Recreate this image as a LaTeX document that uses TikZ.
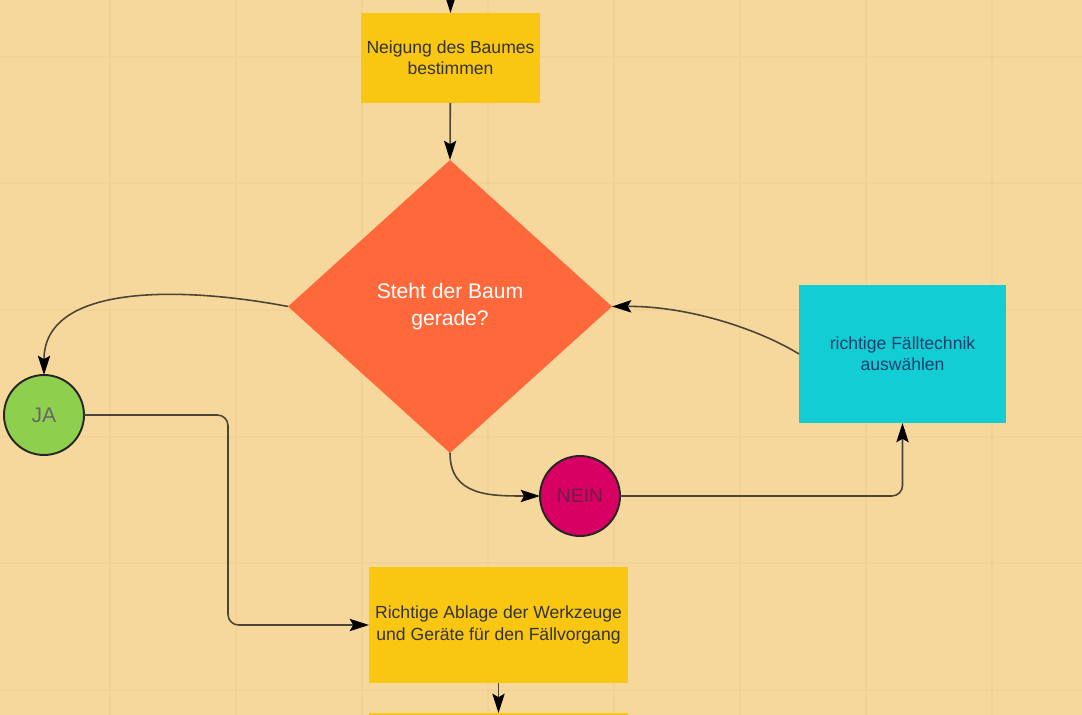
\documentclass[tikz,border=0pt]{standalone}
\usepackage{fontspec}
\setmainfont{Liberation Sans}
\usetikzlibrary{shapes.geometric,arrows.meta}

\definecolor{paper}{HTML}{F7D89C}
\definecolor{gridline}{HTML}{F2D295}
\definecolor{stepyellow}{HTML}{F9C612}
\definecolor{askorange}{HTML}{FF683A}
\definecolor{pickcyan}{HTML}{13CDD5}
\definecolor{yesgreen}{HTML}{8ED04E}
\definecolor{nomagenta}{HTML}{D80062}
\definecolor{wire}{HTML}{4A4536}

\begin{document}
\begin{tikzpicture}[x=0.02cm, y=-0.02cm,
    >={Stealth[length=11pt,width=7pt,inset=2pt,fill=black,color=black]},
    line width=0.9pt,
    stepbox/.style={rectangle, fill=stepyellow, align=center, text=black!80,
        font=\fontsize{10}{12}\selectfont, inner sep=2pt, outer sep=0pt},
    ask/.style={diamond, fill=askorange, text=white, align=center,
        font=\fontsize{12}{15.5}\selectfont, inner sep=0pt, outer sep=0pt,
        minimum width=6.48cm, minimum height=5.86cm},
    answer/.style={circle, draw=black!85, line width=1.1pt, minimum size=1.6cm,
        inner sep=0pt, outer sep=0pt},
    link/.style={->, draw=wire, line width=0.9pt}]

    \useasboundingbox (0,0) rectangle (1082,715);
    \clip (0,0) rectangle (1082,715);

    % background and grid
    \fill[paper] (0,0) rectangle (1082,715);
    \foreach \gx in {110,236,362,488,614,740,866,992}
        \draw[gridline, line width=0.6pt] (\gx,0) -- (\gx,715);
    \foreach \gy in {57,183,310,437,563,690}
        \draw[gridline, line width=0.6pt] (0,\gy) -- (1082,\gy);

    % nodes
    \node[stepbox, minimum width=3.58cm, minimum height=1.8cm] (neigung) at (450.5,58)
        {Neigung des Baumes\\bestimmen};
    \node[ask] (gerade) at (450,306.5) {Steht der Baum\\gerade?};
    \node[answer, fill=yesgreen, text=black!60, font=\fontsize{12}{14}\selectfont] (ja) at (44,415) {JA};
    \node[answer, fill=nomagenta, text={rgb,255:red,110;green,30;blue,70}, font=\fontsize{11}{13}\selectfont] (nein) at (580,496) {NEIN};
    \node[stepbox, fill=pickcyan, text={rgb,255:red,28;green,63;blue,110},
        minimum width=4.14cm, minimum height=2.76cm] (technik) at (902.5,354)
        {richtige Fälltechnik\\auswählen};
    \node[stepbox, minimum width=5.18cm, minimum height=2.32cm] (ablage) at (498.5,625)
        {Richtige Ablage der Werkzeuge\\und Geräte für den Fällvorgang};
    \node[stepbox, minimum width=5.18cm, minimum height=2.32cm] (weiter) at (498.5,771) {};

    \coordinate (oben) at (450.5,-20);
    \coordinate (knick) at (228,415);

    % connectors
    \draw[link] (oben) -- (neigung);
    \draw[link] (neigung) -- (gerade.north);
    \draw[link] (gerade.west) .. controls (180,286) and (44,284) .. (ja.north);
    \draw[link] (gerade.south) .. controls (450,496) and (490,496) .. (nein.west);
    \draw[link] (technik.west) .. controls (760,330) and (690,306) .. (gerade.east);
    \draw[link, rounded corners=6] (nein.east) -| (technik.south);
    \draw[link, rounded corners=6] (ja.east) -- (knick) |- (ablage.west);
    \draw[link] (ablage.south) -- (weiter.north);
\end{tikzpicture}
\end{document}
